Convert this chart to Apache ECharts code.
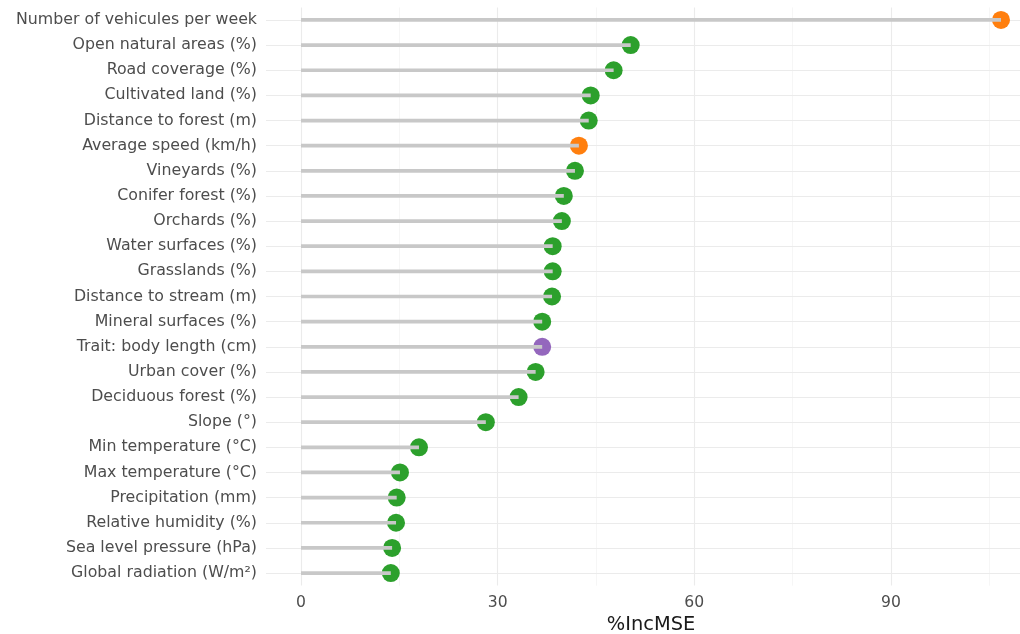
<!DOCTYPE html>
<html><head><meta charset="utf-8">
<script src="https://cdn.jsdelivr.net/npm/echarts@6/dist/echarts.min.js"></script>
<style>html,body{margin:0;padding:0;background:#fff}#c{width:1020px;height:634px}</style>
</head><body><div id="c"></div>
<script>
const categories = ["Number of vehicules per week","Open natural areas (%)","Road coverage (%)","Cultivated land (%)","Distance to forest (m)","Average speed (km/h)","Vineyards (%)","Conifer forest (%)","Orchards (%)","Water surfaces (%)","Grasslands (%)","Distance to stream (m)","Mineral surfaces (%)","Trait: body length (cm)","Urban cover (%)","Deciduous forest (%)","Slope (°)","Min temperature (°C)","Max temperature (°C)","Precipitation (mm)","Relative humidity (%)","Sea level pressure (hPa)","Global radiation (W/m²)"];
const values = [106.8,50.3,47.7,44.2,43.9,42.4,41.8,40.1,39.8,38.4,38.4,38.3,36.8,36.8,35.8,33.2,28.2,18.0,15.1,14.6,14.5,13.9,13.7];
const groups = ["traffic","land","land","land","land","traffic","land","land","land","land","land","land","land","trait","land","land","land","land","land","land","land","land","land"];
const groupColors = {traffic:"#ff7f0e", land:"#2ca02c", trait:"#9467bd"};
const xTicks = [0,30,60,90];
const xMinor = [15,45,75,105];

const chart = echarts.init(document.getElementById('c'), null, {renderer:'canvas'});
const font = "DejaVu Sans";
chart.setOption({
  animation:false,
  grid:{left:266,right:-16,top:7.4,bottom:48.4,containLabel:false,outerBoundsMode:'none'},
  xAxis:{type:'value',min:-5.34,max:112.14,
    axisLine:{show:false},axisTick:{show:false},splitLine:{show:false},
    axisLabel:{customValues:xTicks,color:'#4d4d4d',fontSize:15.6,fontFamily:font,margin:9},
    name:'%IncMSE',nameLocation:'middle',nameGap:28,
    nameTextStyle:{color:'#1a1a1a',fontSize:19.4,fontFamily:font}},
  yAxis:{type:'category',data:categories,inverse:true,
    axisLine:{show:false},axisTick:{show:false},splitLine:{show:false},
    axisLabel:{color:'#4d4d4d',fontSize:15.8,fontFamily:font,margin:9}},
  series:[
    {type:'line',data:[],silent:true,zlevel:0,z:0,
      markLine:{silent:true,symbol:'none',label:{show:false},animation:false,
        data:[
          ...xMinor.map(v=>({xAxis:v,lineStyle:{color:'#f0f0f0',width:0.6,type:'solid'}})),
          ...xTicks.map(v=>({xAxis:v,lineStyle:{color:'#ebebeb',width:1.1,type:'solid'}})),
          ...categories.map(c=>({yAxis:c,lineStyle:{color:'#ebebeb',width:1.1,type:'solid'}}))
        ]}},
    {type:'scatter',zlevel:1,z:2,symbolSize:18,
      data:values.map((v,i)=>({value:[v,categories[i]],itemStyle:{color:groupColors[groups[i]],opacity:1}}))},
    {type:'custom',zlevel:1,z:3,silent:true,
      data:values.map((v,i)=>[v,i]),
      encode:{x:0,y:1},
      renderItem:function(params,api){
        const end = api.coord([api.value(0), api.value(1)]);
        const start = api.coord([0, api.value(1)]);
        return {type:'line',shape:{x1:start[0],y1:start[1],x2:end[0],y2:end[1]},
          style:{stroke:'#c8c8c8',lineWidth:3.7,lineCap:'butt'}};
      }}
  ]
});
</script></body></html>
